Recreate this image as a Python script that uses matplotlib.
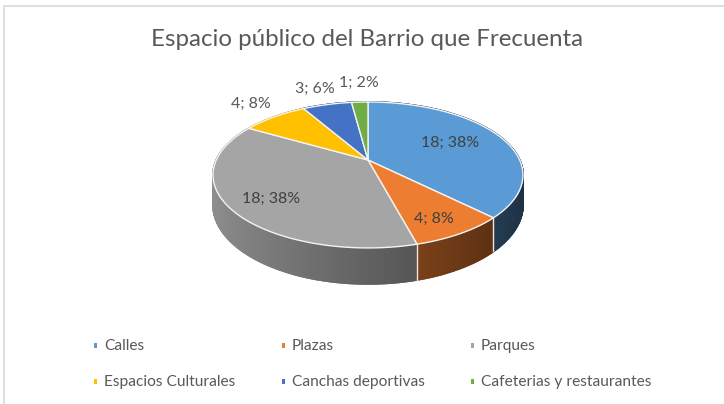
import matplotlib
matplotlib.use("Agg")
import matplotlib.pyplot as plt
import numpy as np
from matplotlib.patches import Rectangle

categories = ["Calles", "Plazas", "Parques", "Espacios Culturales", "Canchas deportivas", "Cafeterias y restaurantes"]
values = [18, 4, 18, 4, 3, 1]
colors = ["#5b9bd5", "#ed7d31", "#a5a5a5", "#ffc000", "#4472c4", "#70ad47"]

title = "Espacio público del Barrio que Frecuenta"
label_pos = [(450, 143), (434, 219), (271, 199), (251, 104), (315, 89), (359, 83)]
legend_pos = [(95, 345), (283, 345), (472, 345), (95, 381), (283, 381), (472, 381)]

plt.rcParams["font.family"] = ["Lato", "DejaVu Sans"]
text_color = "#595959"

# pie drawn in pixel coordinates, with the perspective of the excel 3d pie
cx, cy = 368, 160
b, a, k = 151.7, 69.9, 0.205


def project(theta):
    u, v = np.sin(theta), np.cos(theta)
    w = 1 + k * v
    return cx + b * u / w, cy - a * v / w


def depth(theta):
    return 28 - 8 * np.cos(theta)


fig = plt.figure(figsize=(7.24, 4.04), dpi=100)
ax = fig.add_axes([0, 0, 1, 1])
ax.set_xlim(0, 724)
ax.set_ylim(404, 0)
ax.axis("off")

# frame of the chart
ax.plot([4, 4, 724], [404, 6, 6], color="#d9d9d9", lw=1.2)

total = sum(values)
edges = np.cumsum([0] + values) / total * 2 * np.pi

# side of the pie, back to front
side = []
for i in range(len(values)):
    n = max(int(values[i] * 16), 6)
    ts = np.linspace(edges[i], edges[i + 1], n + 1)
    base = np.array(matplotlib.colors.to_rgb(colors[i]))
    for t0, t1 in zip(ts[:-1], ts[1:]):
        side.append((np.cos((t0 + t1) / 2), t0, t1, base))
side.sort(key=lambda s: -s[0])
for _, t0, t1, base in side:
    x0, y0 = project(t0)
    x1, y1 = project(t1)
    shade = 0.59 - 0.286 * np.sin((t0 + t1) / 2)
    c = base * shade
    ax.fill([x0, x1, x1, x0], [y0, y1, y1 + depth(t1), y0 + depth(t0)],
            color=c, lw=1.2, ec=c, zorder=2)

# white lines between the slices on the side
for t in edges[1:3]:
    x, y = project(t)
    ax.plot([x, x], [y, y + depth(t)], color="#f2e6dc", lw=1, zorder=3)

# top of the pie
for i in range(len(values)):
    ts = np.linspace(edges[i], edges[i + 1], 120)
    xs, ys = project(ts)
    ax.fill(np.r_[cx, xs], np.r_[cy, ys], facecolor=colors[i], edgecolor="#f4f4f4", lw=1, zorder=4)

# data labels
for i in range(len(values)):
    pct = round(values[i] / total * 100)
    ax.text(label_pos[i][0], label_pos[i][1], f"{values[i]}; {pct}%", color="#404040" if i < 3 else text_color,
            fontsize=11.5, ha="center", va="center", zorder=5)

ax.text(367, 40, title, color=text_color, fontsize=17.4, ha="center", va="center")

# legend
for i in range(len(categories)):
    x, y = legend_pos[i]
    ax.add_patch(Rectangle((x - 1.5, y - 2.5), 3, 5, color=colors[i], lw=0))
    ax.text(x + 9, y + 1, categories[i], color=text_color, fontsize=11.2, ha="left", va="center")

fig.savefig("out.png", dpi=100)
